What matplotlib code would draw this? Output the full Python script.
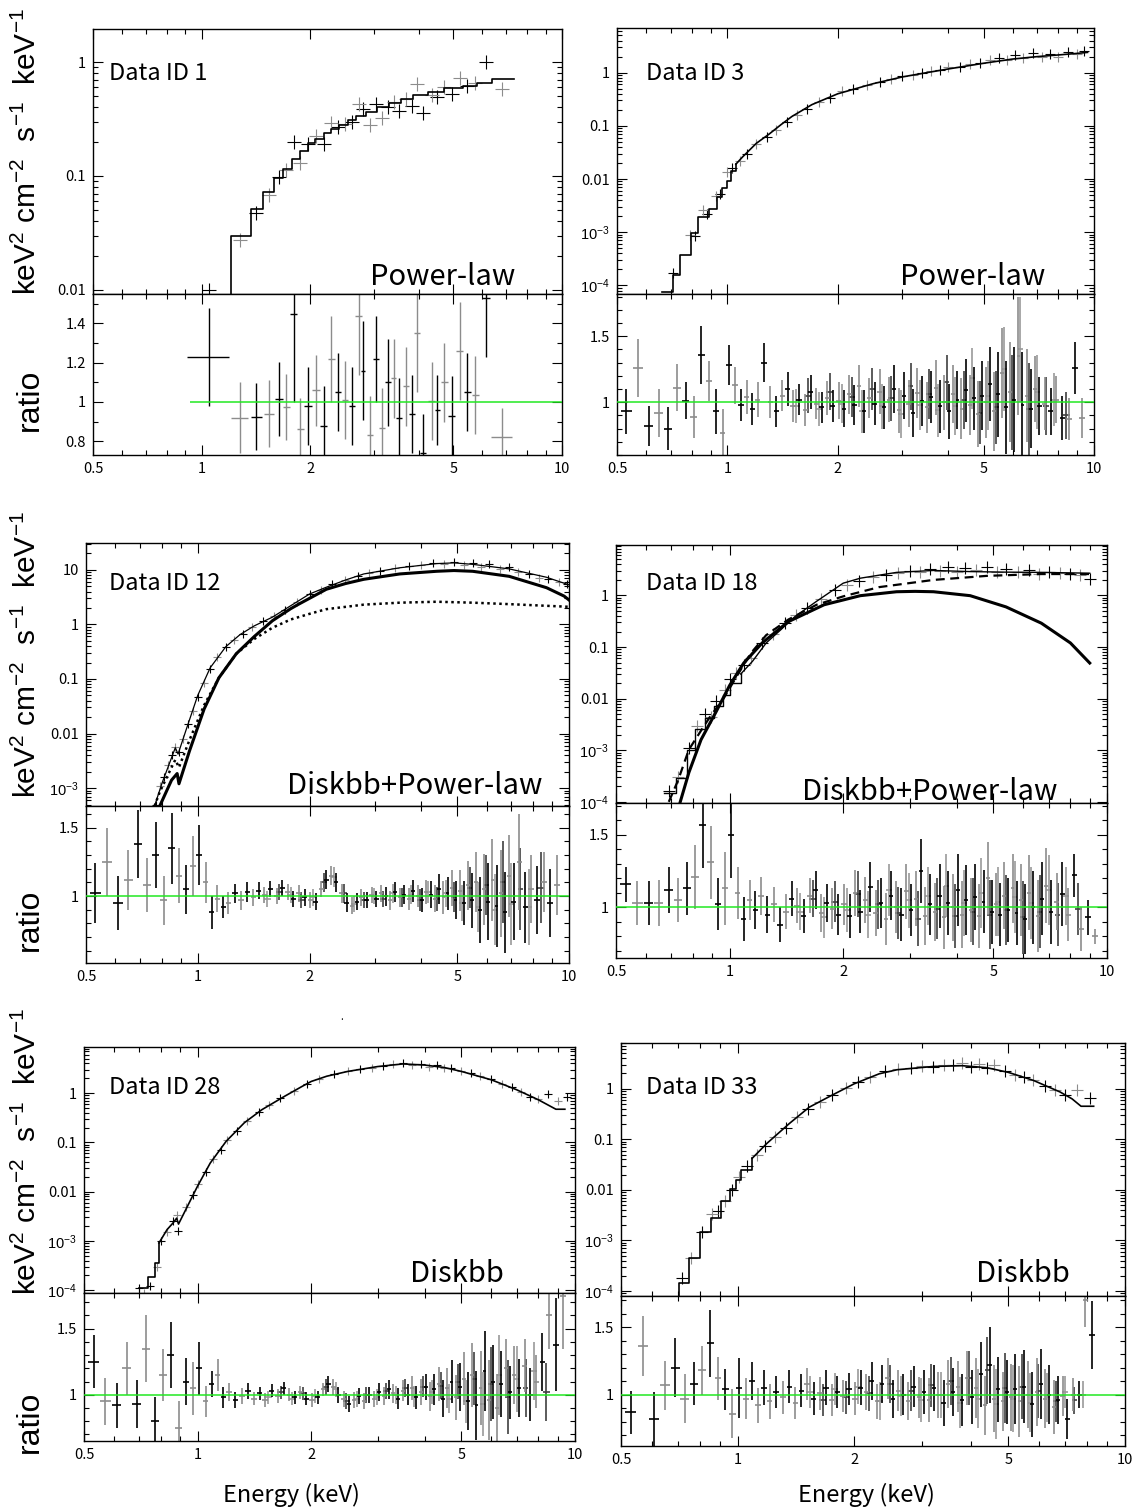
import matplotlib
matplotlib.use("Agg")
import matplotlib.pyplot as plt
import numpy as np
from matplotlib.ticker import FixedLocator, FuncFormatter, NullFormatter, LogLocator, MultipleLocator

# ---------------- data ----------------
# Data ID 1 (power-law)
p1_mod_e = [1.205, 1.205, 1.37, 1.48, 1.59, 1.68, 1.78, 1.87, 1.97, 2.07, 2.18, 2.29, 2.40,
            2.55, 2.69, 2.86, 3.07, 3.31, 3.57, 3.87, 4.25, 4.72, 5.30, 5.82, 6.38, 7.34]
p1_mod_f = [0.005, 0.030, 0.051, 0.072, 0.096, 0.115, 0.142, 0.166, 0.194, 0.213, 0.237, 0.258, 0.281,
            0.307, 0.335, 0.364, 0.403, 0.438, 0.478, 0.512, 0.548, 0.587, 0.62, 0.66, 0.71, 0.71]
p1_e = [1.05, 1.28, 1.42, 1.54, 1.64, 1.72, 1.80, 1.88, 1.98, 2.08, 2.18, 2.29, 2.39, 2.50, 2.61,
        2.73, 2.81, 2.93, 3.05, 3.16, 3.29, 3.41, 3.54, 3.70, 3.83, 3.96, 4.12, 4.35, 4.51, 4.72,
        4.94, 5.21, 5.46, 5.75, 6.16, 6.81]
p1_flux = [0.0100, 0.0276, 0.047, 0.068, 0.097, 0.112, 0.20, 0.13, 0.19, 0.226, 0.19, 0.29, 0.27,
           0.284, 0.30, 0.43, 0.39, 0.28, 0.43, 0.32, 0.40, 0.45, 0.37, 0.47, 0.41, 0.645, 0.36,
           0.51, 0.49, 0.60, 0.52, 0.72, 0.62, 0.65, 1.0, 0.58]
p1_ratio = [1.23, 0.92, 0.925, 0.94, 1.015, 0.975, 1.45, 0.86, 0.98, 1.06, 0.88, 1.22, 1.05, 1.01,
            0.98, 1.44, 1.16, 0.83, 1.22, 0.87, 1.10, 1.12, 0.92, 1.08, 0.94, 1.35, 0.74, 1.005,
            0.96, 1.10, 0.93, 1.26, 1.05, 1.035, 1.53, 0.82]
p1_rerr = [0.25, 0.18, 0.17, 0.17, 0.19, 0.17, 0.45, 0.16, 0.20, 0.18, 0.20, 0.22, 0.20, 0.20,
           0.20, 0.30, 0.25, 0.20, 0.22, 0.20, 0.22, 0.20, 0.20, 0.20, 0.20, 0.30, 0.20, 0.20,
           0.18, 0.20, 0.20, 0.25, 0.20, 0.20, 0.30, 0.15]
p1_xerr = [0.14, 0.07, 0.05, 0.05, 0.04, 0.04, 0.04, 0.04, 0.05, 0.05, 0.05, 0.05, 0.05, 0.05,
           0.05, 0.06, 0.04, 0.06, 0.06, 0.06, 0.06, 0.06, 0.07, 0.07, 0.07, 0.07, 0.08, 0.10,
           0.08, 0.10, 0.10, 0.12, 0.12, 0.13, 0.15, 0.45]

# energy grids used for the residual (ratio) points of the dense spectra
e_grid = [0.53, 0.57, 0.61, 0.65, 0.69, 0.73, 0.77, 0.81, 0.85, 0.89, 0.93, 0.97,
          1.01, 1.05, 1.09, 1.13, 1.17, 1.21, 1.26, 1.31, 1.36, 1.41, 1.46, 1.51, 1.57, 1.63,
          1.69, 1.75, 1.81, 1.87, 1.94,
          2.01, 2.08, 2.15, 2.22, 2.29, 2.36, 2.44, 2.52, 2.60, 2.68, 2.76, 2.85, 2.94, 3.03,
          3.12, 3.21, 3.30, 3.40, 3.50, 3.60, 3.70, 3.80, 3.91, 4.02, 4.13, 4.24, 4.35, 4.47,
          4.59, 4.71, 4.83, 4.95,
          5.08, 5.21, 5.34, 5.48, 5.62, 5.76, 5.91, 6.06, 6.22, 6.38, 6.55, 6.72, 6.90, 7.10,
          7.35, 7.62, 7.90, 8.20, 8.55, 8.90, 9.30]
e_grid2 = [1.54, 1.66, 1.78, 1.90, 2.05, 2.19, 2.33, 2.48, 2.64, 2.80, 2.98, 3.16, 3.35, 3.55,
           3.75, 3.96, 4.18, 4.41, 4.65, 4.89, 5.14, 5.41, 5.69, 5.98, 6.30, 6.63, 7.0, 7.4,
           7.8, 8.4]

# Data ID 3 (power-law)
p2_mod_e = [0.665, 0.711, 0.744, 0.794, 0.834, 0.893, 0.935, 0.967, 0.995, 1.02, 1.055, 1.1, 1.2,
            1.3, 1.4, 1.5, 1.7, 2.0, 2.5, 3.0, 3.5, 4.0, 5.0, 6.0, 7.0, 8.0, 9.0, 9.6]
p2_mod_f = [7.5e-5, 1.58e-4, 3.8e-4, 9.5e-4, 1.95e-3, 2.7e-3, 4.6e-3, 6.8e-3, 9.3e-3, 0.0143, 0.019,
            0.026, 0.047, 0.07, 0.105, 0.15, 0.25, 0.40, 0.62, 0.83, 1.0, 1.17, 1.50, 1.8, 2.0,
            2.15, 2.3, 2.4]
p2_de = [0.71, 0.79, 0.815, 0.86, 0.88, 0.93, 0.955, 1.0, 1.03, 1.08, 1.13, 1.2, 1.28, 1.36, 1.45,
         1.55, 1.65, 1.78, 1.9, 2.05, 2.2, 2.4, 2.6, 2.8, 3.0, 3.2, 3.4, 3.6, 3.8, 4.0, 4.3, 4.6,
         4.9, 5.2, 5.5, 5.8, 6.1, 6.4, 6.8, 7.2, 7.6, 8.0, 8.5, 9.0, 9.4]
p2_df = [1.7e-4, 9e-4, 8.5e-4, 2.6e-3, 2.2e-3, 4.8e-3, 5.2e-3, 0.0135, 0.016, 0.022, 0.030, 0.045,
         0.062, 0.085, 0.12, 0.16, 0.21, 0.28, 0.34, 0.45, 0.50, 0.58, 0.68, 0.75, 0.86, 0.90,
         0.98, 1.08, 1.1, 1.25, 1.3, 1.45, 1.5, 1.7, 1.85, 1.75, 2.1, 1.9, 2.3, 2.0, 2.2, 2.0,
         2.4, 2.2, 2.6]
p2_ratio = [0.93, 1.26, 0.82, 0.92, 0.80, 1.11, 1.01, 0.89, 1.36, 1.16, 0.93, 0.77,
            1.28, 1.13, 0.98, 1.04, 0.95, 1.02, 1.30, 1.00, 0.93, 1.05, 1.10, 0.97, 1.02, 0.94,
            1.08, 0.99, 0.96, 1.03, 0.97,
            1.01, 0.95, 1.06, 0.98, 1.12, 0.93, 1.03, 0.99, 1.08, 0.96, 1.02, 1.10, 0.94, 1.05,
            0.99, 0.92, 1.07, 1.01, 0.96, 1.04, 1.11, 0.97, 1.00, 0.93, 1.06, 1.02, 0.95, 1.09,
            0.98, 1.03, 0.91, 1.05,
            1.00, 1.14, 0.93, 1.06, 1.22, 0.96, 1.08, 1.02, 1.35, 0.98, 1.05, 0.95, 1.10, 0.97,
            0.99, 0.93, 1.02, 0.88, 0.87, 1.26, 0.88]
p2_err = [0.17, 0.22, 0.15, 0.18, 0.16, 0.18, 0.14, 0.16, 0.22, 0.15, 0.17, 0.18,
          0.15, 0.14, 0.12, 0.13, 0.12, 0.13, 0.15, 0.12, 0.12, 0.12, 0.13, 0.12, 0.12, 0.12,
          0.13, 0.12, 0.12, 0.13, 0.12,
          0.14, 0.14, 0.15, 0.15, 0.16, 0.16, 0.15, 0.16, 0.17, 0.16, 0.17, 0.18, 0.17, 0.18,
          0.18, 0.18, 0.19, 0.19, 0.19, 0.20, 0.21, 0.20, 0.21, 0.21, 0.22, 0.22, 0.23, 0.24,
          0.23, 0.24, 0.25, 0.26,
          0.27, 0.28, 0.30, 0.32, 0.34, 0.35, 0.38, 0.40, 0.45, 0.40, 0.35, 0.30, 0.25, 0.22,
          0.20, 0.18, 0.18, 0.17, 0.16, 0.20, 0.15]
p2_ratio2 = [0.97, 1.05, 0.95, 1.08, 0.99, 1.04, 0.93, 1.10, 0.97, 1.03, 0.91, 1.12, 0.98, 1.06,
             0.94, 1.15, 0.97, 1.02, 1.18, 0.92, 1.05, 0.96, 1.25, 1.00, 1.40, 0.95, 1.08, 0.97,
             1.02, 0.90]
p2_err2 = [0.13, 0.13, 0.13, 0.14, 0.15, 0.15, 0.16, 0.16, 0.17, 0.17, 0.18, 0.18, 0.19, 0.19,
           0.20, 0.21, 0.22, 0.22, 0.23, 0.24, 0.26, 0.28, 0.32, 0.36, 0.40, 0.35, 0.28, 0.22,
           0.20, 0.18]

# Data ID 12 (diskbb + power-law)
p3_tot_e = [0.765, 0.80, 0.85, 0.87, 0.885, 0.93, 1.0, 1.08, 1.19, 1.30, 1.42, 1.59, 1.78, 2.0,
            2.22, 2.5, 2.8, 3.5, 4.4, 4.9, 5.5, 6.9, 8.7, 10.0]
p3_tot_f = [4.7e-4, 1.2e-3, 3.6e-3, 5.5e-3, 4.2e-3, 0.0116, 0.05, 0.16, 0.39, 0.65, 0.94, 1.36, 2.2,
            3.6, 4.8, 6.5, 8.4, 10.9, 13.0, 13.4, 12.6, 10.4, 7.3, 5.3]
p3_disk_e = [0.79, 0.85, 0.88, 0.89, 0.95, 1.04, 1.14, 1.27, 1.42, 1.59, 1.78, 1.86, 2.0, 2.22,
             2.5, 2.8, 3.5, 4.4, 4.9, 5.5, 6.9, 8.7, 9.7, 10.0]
p3_disk_f = [4.7e-4, 1.4e-3, 1.85e-3, 1.2e-3, 4.8e-3, 0.028, 0.105, 0.29, 0.6, 1.17, 1.94, 2.3,
             3.0, 4.4, 5.6, 6.7, 8.4, 9.4, 9.7, 9.4, 7.6, 4.7, 3.3, 2.8]
p3_pl_e = [0.765, 0.79, 0.85, 0.87, 0.89, 0.95, 1.04, 1.14, 1.27, 1.42, 1.59, 1.78, 2.0, 2.22,
           2.8, 3.5, 4.4, 5.5, 6.9, 10.0]
p3_pl_f = [4.7e-4, 8.5e-4, 2.4e-3, 3.3e-3, 2.4e-3, 7.6e-3, 0.033, 0.105, 0.29, 0.54, 0.87, 1.23,
           1.56, 1.9, 2.3, 2.5, 2.6, 2.5, 2.35, 2.1]
p3_de = [0.77, 0.79, 0.81, 0.83, 0.85, 0.87, 0.89, 0.91, 0.94, 0.97, 1.0, 1.04, 1.08, 1.13, 1.19,
         1.25, 1.32, 1.40, 1.50, 1.60, 1.72, 1.85, 2.0, 2.15, 2.3, 2.5, 2.7, 2.9, 3.1, 3.4, 3.7,
         4.0, 4.3, 4.6, 4.9, 5.2, 5.5, 5.8, 6.1, 6.5, 6.9, 7.3, 7.8, 8.3, 8.8, 9.4, 9.9]
p3_df = [5e-4, 1.1e-3, 1.6e-3, 2.6e-3, 4e-3, 5.6e-3, 4.5e-3, 8e-3, 0.015, 0.026, 0.047, 0.085, 0.15,
         0.25, 0.38, 0.52, 0.68, 0.88, 1.15, 1.4, 1.8, 2.6, 3.6, 4.3, 5.4, 6.4, 7.8, 8.8, 9.6,
         10.6, 11.8, 12.2, 13.5, 12.8, 13.8, 12.5, 13.2, 11.5, 12.8, 10.5, 11.2, 9.0, 8.5, 7.2,
         6.8, 5.9, 5.5]
p3_ratio = [1.02, 1.25, 0.95, 1.12, 1.38, 1.08, 1.30, 0.97, 1.35, 1.15, 1.05, 1.22,
            1.30, 1.10, 0.88, 0.98, 0.92, 0.95, 1.02, 0.97, 1.03, 0.99, 1.04, 1.01, 1.05, 1.00,
            1.06, 1.03, 0.98, 1.02, 0.99,
            0.97, 0.96, 1.05, 1.12, 1.15, 1.10, 1.02, 0.95, 0.93, 0.96, 0.99, 0.97, 1.01, 0.98,
            1.02, 1.00, 0.97, 1.03, 0.99, 1.01, 0.98, 1.04, 1.00, 0.97, 1.03, 1.01, 0.98, 1.05,
            0.99, 1.02, 1.06, 0.97,
            1.04, 0.95, 1.08, 0.97, 1.10, 0.90, 1.05, 0.96, 1.12, 0.93, 1.02, 0.88, 1.15, 0.96,
            1.25, 0.92, 1.05, 0.97, 1.10, 0.95, 1.08]
p3_err = [0.22, 0.25, 0.20, 0.22, 0.25, 0.20, 0.24, 0.18, 0.26, 0.20, 0.18, 0.22,
          0.22, 0.15, 0.12, 0.10, 0.08, 0.08, 0.07, 0.07, 0.07, 0.06, 0.06, 0.06, 0.06, 0.06,
          0.06, 0.06, 0.06, 0.06, 0.06,
          0.06, 0.06, 0.06, 0.07, 0.07, 0.07, 0.07, 0.07, 0.06, 0.06, 0.06, 0.06, 0.06, 0.06,
          0.06, 0.07, 0.07, 0.07, 0.07, 0.07, 0.08, 0.08, 0.08, 0.09, 0.09, 0.10, 0.10, 0.11,
          0.12, 0.12, 0.13, 0.14,
          0.15, 0.16, 0.18, 0.20, 0.22, 0.24, 0.26, 0.28, 0.30, 0.30, 0.32, 0.30, 0.30, 0.28,
          0.35, 0.26, 0.25, 0.25, 0.22, 0.25, 0.22]
p3_ratio2 = [0.98, 1.03, 1.01, 0.97, 0.99, 1.10, 1.14, 1.02, 0.94, 0.97, 1.00, 0.98, 1.02, 0.99,
             1.01, 0.97, 1.03, 0.98, 1.02, 0.99, 0.95, 1.06, 0.92, 1.08, 0.90, 1.10, 0.94, 1.05,
             0.92, 1.06]
p3_err2 = [0.06, 0.06, 0.06, 0.06, 0.06, 0.07, 0.07, 0.07, 0.06, 0.06, 0.06, 0.06, 0.07, 0.07,
           0.07, 0.08, 0.08, 0.09, 0.10, 0.11, 0.13, 0.15, 0.18, 0.22, 0.26, 0.30, 0.30, 0.30,
           0.28, 0.26]

# Data ID 18 (diskbb + power-law)
p4_tot_e = [0.67, 0.72, 0.77, 0.81, 0.86, 0.91, 0.96, 1.0, 1.07, 1.15, 1.25, 1.37, 1.49, 1.70,
            2.0, 2.22, 2.77, 3.47, 4.34, 5.4, 6.7, 9.0]
p4_tot_f = [1.5e-4, 2.9e-4, 1.03e-3, 2.6e-3, 4.2e-3, 7.1e-3, 0.012, 0.020, 0.030, 0.053, 0.12,
            0.22, 0.39, 0.77, 1.73, 2.16, 2.8, 3.05, 2.9, 2.83, 2.8, 2.7]
p4_pl_e = [0.69, 0.73, 0.78, 0.84, 0.89, 0.96, 1.05, 1.14, 1.25, 1.43, 1.70, 2.0, 2.49, 3.47,
           4.82, 6.7, 9.0]
p4_pl_f = [1.0e-4, 2.6e-4, 1.03e-3, 2.4e-3, 4.6e-3, 9.6e-3, 0.029, 0.077, 0.17, 0.34, 0.66, 0.96,
           1.45, 2.0, 2.4, 2.6, 2.6]
p4_disk_e = [0.74, 0.78, 0.84, 0.92, 1.0, 1.09, 1.22, 1.43, 1.78, 2.22, 2.77, 3.1, 3.47, 4.34,
             5.4, 6.7, 8.0, 9.0]
p4_disk_f = [1.0e-4, 3.7e-4, 1.6e-3, 5.5e-3, 0.018, 0.049, 0.12, 0.31, 0.66, 0.99, 1.18, 1.2,
             1.18, 0.99, 0.60, 0.29, 0.12, 0.049]
p4_de = [0.69, 0.73, 0.78, 0.82, 0.86, 0.89, 0.92, 0.97, 1.0, 1.04, 1.09, 1.14, 1.22, 1.3, 1.4,
         1.5, 1.6, 1.75, 1.9, 2.05, 2.2, 2.4, 2.6, 2.8, 3.0, 3.2, 3.4, 3.6, 3.8, 4.0, 4.2, 4.5,
         4.8, 5.1, 5.4, 5.8, 6.2, 6.6, 7.0, 7.5, 8.0, 8.5, 9.0]
p4_df = [1.6e-4, 3e-4, 1.1e-3, 3.0e-3, 5e-3, 4.5e-3, 9e-3, 0.015, 0.024, 0.032, 0.045, 0.062,
         0.12, 0.18, 0.29, 0.42, 0.56, 0.85, 1.25, 1.6, 1.9, 2.3, 2.5, 2.7, 3.0, 2.8, 3.3, 3.0,
         3.5, 2.9, 3.4, 3.1, 3.6, 2.9, 3.2, 2.8, 3.1, 2.6, 2.9, 2.7, 2.6, 2.5, 2.1]
p4_ratio = [1.16, 1.03, 1.03, 1.03, 1.12, 1.05, 1.13, 1.21, 1.57, 1.31, 1.02, 1.13,
            1.50, 1.10, 0.92, 1.05, 0.98, 1.08, 0.95, 1.02, 0.88, 0.97, 1.06, 1.01, 0.94, 1.08,
            1.12, 0.96, 1.03, 0.99, 0.95,
            1.02, 0.94, 1.10, 0.97, 1.05, 1.14, 0.96, 1.03, 0.92, 1.08, 1.00, 0.95, 1.11, 0.98,
            1.06, 1.25, 0.94, 1.02, 0.97, 1.08, 0.93, 1.03, 1.00, 1.12, 0.95, 1.05, 0.98, 1.07,
            0.94, 1.04, 1.20, 0.97,
            1.02, 0.95, 1.08, 0.98, 1.13, 0.96, 1.05, 0.92, 1.10, 1.00, 0.94, 1.06, 1.15, 0.97,
            1.04, 1.09, 0.95, 1.22, 0.85, 0.93, 0.80]
p4_err = [0.12, 0.15, 0.15, 0.16, 0.16, 0.15, 0.18, 0.22, 0.30, 0.25, 0.18, 0.25,
          0.30, 0.18, 0.15, 0.14, 0.13, 0.13, 0.13, 0.12, 0.12, 0.12, 0.12, 0.12, 0.12, 0.12,
          0.13, 0.13, 0.13, 0.14, 0.14,
          0.14, 0.15, 0.16, 0.15, 0.16, 0.17, 0.16, 0.17, 0.18, 0.17, 0.18, 0.18, 0.19, 0.18,
          0.19, 0.22, 0.20, 0.21, 0.20, 0.22, 0.22, 0.22, 0.23, 0.25, 0.23, 0.24, 0.22, 0.23,
          0.22, 0.22, 0.25, 0.22,
          0.22, 0.22, 0.23, 0.22, 0.24, 0.22, 0.25, 0.24, 0.26, 0.25, 0.25, 0.25, 0.26, 0.22,
          0.20, 0.22, 0.18, 0.15, 0.15, 0.12, 0.05]
p4_ratio2 = [0.97, 1.06, 0.93, 1.04, 0.98, 1.09, 0.95, 1.02, 1.12, 0.96, 1.05, 0.92, 1.08, 0.99,
             1.15, 0.94, 1.03, 0.97, 1.10, 0.95, 1.04, 0.98, 1.07, 0.93, 1.03, 0.97, 1.12, 0.95,
             1.08, 0.99]
p4_err2 = [0.13, 0.13, 0.14, 0.14, 0.15, 0.16, 0.16, 0.17, 0.18, 0.18, 0.19, 0.19, 0.20, 0.21,
           0.22, 0.22, 0.23, 0.23, 0.24, 0.24, 0.24, 0.24, 0.25, 0.25, 0.25, 0.25, 0.24, 0.22,
           0.20, 0.18]

# Data ID 28 (diskbb)
p5_mod_e = [0.70, 0.74, 0.77, 0.79, 0.83, 0.86, 0.88, 0.89, 0.93, 1.0, 1.08, 1.19, 1.33, 1.48,
            1.7, 1.89, 2.0, 2.2, 2.5, 3.0, 3.5, 4.0, 4.5, 5.0, 6.0, 7.0, 8.0, 8.9, 9.4]
p5_mod_f = [1.1e-4, 1.9e-4, 3.6e-4, 9.1e-4, 1.7e-3, 2.3e-3, 2.9e-3, 2.2e-3, 4.3e-3, 0.013, 0.038,
            0.105, 0.25, 0.46, 0.86, 1.36, 1.72, 2.2, 2.75, 3.45, 3.9, 3.7, 3.3, 2.75, 1.86, 1.17,
            0.73, 0.47, 0.47]
p5_de = [0.70, 0.72, 0.75, 0.78, 0.80, 0.83, 0.86, 0.88, 0.885, 0.93, 0.97, 1.0, 1.05, 1.1, 1.15,
         1.2, 1.27, 1.35, 1.45, 1.55, 1.65, 1.8, 1.95, 2.1, 2.3, 2.5, 2.7, 2.9, 3.1, 3.3, 3.5,
         3.7, 3.9, 4.1, 4.3, 4.5, 4.7, 5.0, 5.3, 5.6, 6.0, 6.4, 6.8, 7.2, 7.6, 8.0, 8.5, 9.0, 9.5]
p5_df = [1.1e-4, 9e-5, 1.2e-4, 3e-4, 1e-3, 1.5e-3, 2.5e-3, 3.3e-3, 1.6e-3, 5e-3, 8.5e-3, 0.014,
         0.025, 0.045, 0.07, 0.11, 0.17, 0.27, 0.42, 0.58, 0.78, 1.1, 1.5, 1.9, 2.4, 2.8, 3.1,
         3.3, 3.6, 3.8, 4.0, 3.7, 3.9, 3.4, 3.7, 3.2, 3.3, 2.8, 2.5, 2.2, 1.9, 1.5, 1.3, 1.05,
         0.85, 0.75, 0.95, 0.70, 0.82]
p5_ratio = [1.25, 0.95, 0.92, 1.20, 0.93, 1.35, 0.80, 1.15, 1.30, 0.75, 1.10, 1.05,
            1.20, 0.95, 1.08, 1.15, 0.98, 1.02, 0.96, 0.99, 1.03, 0.97, 1.01, 0.96, 1.03, 0.99,
            1.05, 1.00, 0.98, 1.02, 0.97,
            0.96, 0.98, 1.04, 1.08, 1.06, 1.00, 0.97, 0.93, 0.96, 0.99, 0.95, 1.00, 0.97, 1.02,
            0.99, 1.04, 1.01, 0.97, 1.03, 1.00, 1.05, 0.98, 1.02, 1.06, 0.99, 1.04, 1.08, 0.97,
            1.05, 1.10, 0.98, 1.06,
            1.12, 0.95, 1.15, 0.92, 1.05, 1.18, 0.96, 1.10, 0.90, 1.08, 1.20, 1.02, 1.15, 1.05,
            1.22, 1.00, 1.10, 1.25, 1.60, 1.38, 1.75]
p5_err = [0.20, 0.18, 0.17, 0.20, 0.18, 0.25, 0.18, 0.20, 0.25, 0.20, 0.18, 0.20,
          0.20, 0.12, 0.10, 0.12, 0.08, 0.07, 0.06, 0.06, 0.06, 0.05, 0.05, 0.05, 0.05, 0.05,
          0.05, 0.05, 0.05, 0.05, 0.05,
          0.05, 0.05, 0.05, 0.06, 0.06, 0.06, 0.06, 0.06, 0.06, 0.06, 0.06, 0.06, 0.06, 0.07,
          0.07, 0.07, 0.07, 0.08, 0.08, 0.08, 0.09, 0.09, 0.10, 0.10, 0.11, 0.12, 0.13, 0.14,
          0.15, 0.16, 0.17, 0.18,
          0.20, 0.22, 0.24, 0.26, 0.28, 0.30, 0.30, 0.28, 0.26, 0.25, 0.22, 0.20, 0.22, 0.22,
          0.20, 0.20, 0.20, 0.22, 0.25, 0.35, 0.40]
p5_ratio2 = [0.98, 1.02, 0.97, 1.01, 0.99, 1.06, 1.04, 0.95, 0.97, 1.00, 0.98, 1.03, 1.00, 1.05,
             0.99, 1.06, 1.02, 1.07, 0.97, 1.10, 0.95, 1.12, 0.93, 1.08, 1.15, 0.98, 1.12, 1.05,
             1.18, 1.02]
p5_err2 = [0.05, 0.05, 0.05, 0.05, 0.05, 0.06, 0.06, 0.06, 0.06, 0.06, 0.06, 0.06, 0.07, 0.07,
           0.08, 0.08, 0.09, 0.10, 0.11, 0.13, 0.16, 0.20, 0.24, 0.28, 0.30, 0.28, 0.25, 0.22,
           0.22, 0.22]

# Data ID 33 (diskbb)
p6_mod_e = [0.705, 0.705, 0.75, 0.80, 0.855, 0.905, 0.953, 0.99, 1.02, 1.09, 1.19, 1.36, 1.53,
            1.75, 2.0, 2.32, 2.58, 3.2, 3.8, 4.4, 5.0, 5.8, 6.8, 7.3, 7.7, 8.3]
p6_mod_f = [5e-5, 1.46e-4, 4.5e-4, 1.5e-3, 2.8e-3, 5.9e-3, 0.0103, 0.0157, 0.025, 0.042, 0.083,
            0.205, 0.43, 0.74, 1.25, 1.97, 2.37, 2.75, 2.85, 2.6, 2.1, 1.46, 0.86, 0.63, 0.45, 0.45]
p6_de = [0.72, 0.76, 0.81, 0.86, 0.89, 0.93, 0.97, 1.01, 1.06, 1.12, 1.18, 1.25, 1.33, 1.42,
         1.52, 1.63, 1.75, 1.9, 2.05, 2.2, 2.4, 2.6, 2.8, 3.0, 3.2, 3.4, 3.6, 3.8, 4.0, 4.2, 4.4,
         4.6, 4.9, 5.2, 5.5, 5.8, 6.2, 6.6, 7.0, 7.5, 8.1]
p6_df = [1.8e-4, 4.5e-4, 1.5e-3, 3.3e-3, 3.8e-3, 6e-3, 0.01, 0.018, 0.03, 0.05, 0.075, 0.11, 0.17,
         0.27, 0.40, 0.55, 0.75, 1.05, 1.35, 1.7, 2.2, 2.4, 2.6, 2.8, 2.7, 3.0, 2.9, 3.2, 2.7,
         3.1, 2.6, 2.9, 2.2, 1.9, 1.7, 1.5, 1.15, 0.95, 0.75, 0.95, 0.65]
p6_ratio = [0.87, 1.36, 0.82, 1.07, 1.20, 0.97, 1.08, 1.18, 1.38, 1.12, 1.04, 0.86,
            1.05, 0.97, 1.10, 0.92, 1.05, 0.95, 1.02, 0.98, 1.06, 0.94, 1.03, 1.08, 0.97, 1.01,
            1.05, 0.96, 1.02, 0.99, 1.04,
            0.97, 1.05, 1.02, 1.10, 0.95, 1.08, 1.12, 0.97, 1.03, 1.00, 0.95, 1.06, 0.98, 1.02,
            0.96, 1.05, 1.00, 0.94, 1.08, 1.02, 1.06, 0.96, 1.12, 0.98, 1.05, 1.15, 0.92, 1.22,
            0.97, 1.04, 0.95, 1.02,
            0.98, 1.04, 0.95, 1.06, 1.00, 0.93, 1.02, 1.08, 0.97, 1.00, 0.91, 0.96, 0.99, 0.82,
            1.00, 1.00, 1.70, 1.44, np.nan, np.nan, np.nan]
p6_err = [0.16, 0.22, 0.20, 0.18, 0.22, 0.18, 0.16, 0.18, 0.25, 0.16, 0.15, 0.18,
          0.22, 0.15, 0.14, 0.13, 0.13, 0.13, 0.12, 0.12, 0.12, 0.12, 0.12, 0.12, 0.12, 0.12,
          0.13, 0.12, 0.12, 0.12, 0.12,
          0.12, 0.13, 0.13, 0.14, 0.13, 0.14, 0.15, 0.14, 0.15, 0.15, 0.14, 0.15, 0.15, 0.16,
          0.16, 0.17, 0.17, 0.17, 0.18, 0.18, 0.19, 0.19, 0.20, 0.20, 0.22, 0.24, 0.22, 0.28,
          0.25, 0.24, 0.22, 0.24,
          0.25, 0.26, 0.26, 0.27, 0.25, 0.24, 0.25, 0.26, 0.22, 0.22, 0.20, 0.18, 0.15, 0.15,
          0.12, 0.10, 0.20, 0.25, np.nan, np.nan, np.nan]
p6_ratio2 = [1.02, 0.96, 1.04, 0.98, 1.06, 1.01, 0.95, 1.08, 0.99, 1.03, 0.96, 1.07, 1.00, 1.10,
             0.94, 1.12, 0.97, 1.18, 0.93, 1.05, 0.97, 1.06, 0.94, 1.03, 0.98, 0.95, 1.02, 0.96,
             1.00, np.nan]
p6_err2 = [0.12, 0.12, 0.12, 0.12, 0.13, 0.13, 0.14, 0.14, 0.15, 0.15, 0.16, 0.16, 0.17, 0.18,
           0.19, 0.20, 0.22, 0.25, 0.26, 0.26, 0.25, 0.24, 0.22, 0.20, 0.18, 0.15, 0.12, 0.10,
           0.10, np.nan]

x_major = [0.5, 1, 2, 5, 10]
x_minor = [0.6, 0.7, 0.8, 0.9, 3, 4, 6, 7, 8, 9]

# ---------------- figure ----------------
plt.rcParams['font.family'] = ['Noto Sans CJK JP', 'DejaVu Sans']
plt.rcParams['mathtext.fontset'] = 'custom'
plt.rcParams['mathtext.rm'] = 'Liberation Sans'
plt.rcParams['mathtext.it'] = 'Liberation Sans:italic'
plt.rcParams['axes.linewidth'] = 1.0

W, H = 1137, 1512
fig = plt.figure(figsize=(W / 100, H / 100), dpi=100)


def px_axes(l, r, t, b):
    return fig.add_axes([l / W, 1 - b / H, (r - l) / W, (b - t) / H])


def px_text(x, y, s, **kw):
    fig.text(x / W, 1 - y / H, s, **kw)


def spec_fmt(v, pos):
    if v >= 0.01:
        return '%g' % v
    return r'$10^{%d}$' % round(np.log10(v))


def common(ax):
    ax.set_xscale('log')
    ax.set_xlim(0.5, 10)
    ax.xaxis.set_major_locator(FixedLocator(x_major))
    ax.xaxis.set_minor_locator(FixedLocator(x_minor))
    ax.xaxis.set_major_formatter(FuncFormatter(lambda v, p: '%g' % v))
    ax.xaxis.set_minor_formatter(NullFormatter())
    ax.tick_params(which='both', direction='in', top=True, right=True, width=0.8,
                   labelsize=10.5, pad=5)
    ax.tick_params(which='major', length=7)
    ax.tick_params(which='minor', length=3.5)


def spec_axes(box, ylim):
    ax = px_axes(*box)
    common(ax)
    ax.set_yscale('log')
    ax.set_ylim(*ylim)
    ax.yaxis.set_major_locator(LogLocator(base=10))
    ax.yaxis.set_minor_locator(LogLocator(base=10, subs=range(2, 10)))
    ax.yaxis.set_major_formatter(FuncFormatter(spec_fmt))
    ax.yaxis.set_minor_formatter(NullFormatter())
    ax.tick_params(labelbottom=False)
    return ax


def ratio_axes(box, ylim, major, green_from=0.5):
    ax = px_axes(*box)
    common(ax)
    ax.set_ylim(*ylim)
    ax.yaxis.set_major_locator(MultipleLocator(major))
    ax.yaxis.set_minor_locator(MultipleLocator(0.1))
    ax.yaxis.set_major_formatter(FuncFormatter(lambda v, p: '%g' % round(v, 2)))
    ax.hlines(1.0, green_from, 10, color='#22e822', lw=1.1, zorder=5)
    return ax


def draw_model(ax, e, f, nstep, **kw):
    e = np.asarray(e)
    f = np.asarray(f)
    ax.plot(e[:nstep + 1], f[:nstep + 1], drawstyle='steps-post', **kw)
    ax.plot(e[nstep:], f[nstep:], **kw)


def draw_points(ax, e, f, ms):
    e = np.asarray(e)
    f = np.asarray(f)
    ax.plot(e[0::2], f[0::2], '+', color='black', ms=ms, mew=0.8)
    ax.plot(e[1::2], f[1::2], '+', color='0.55', ms=ms, mew=0.8)


def draw_resid(ax, e, r, err, xerr, colors=('black', '0.55'), lw=1.0):
    e, r, err, xerr = (np.asarray(a, float) for a in (e, r, err, xerr))
    ok = ~np.isnan(r)
    e, r, err, xerr = e[ok], r[ok], err[ok], xerr[ok]
    for k, c in enumerate(colors):
        ax.errorbar(e[k::2], r[k::2], yerr=err[k::2], xerr=xerr[k::2], fmt='none',
                    ecolor=c, elinewidth=lw, capsize=0)


grid_xerr = 0.45 * np.gradient(np.asarray(e_grid))
grid2_xerr = 0.3 * np.gradient(np.asarray(e_grid2))

# ---- Data ID 1 ----
ax = spec_axes((93, 562, 29, 294), (0.0092, 1.95))
draw_points(ax, p1_e, p1_flux, 10)
draw_model(ax, p1_mod_e, p1_mod_f, len(p1_mod_e) - 1, color='black', lw=1.2)
ax = ratio_axes((93, 562, 294, 455), (0.73, 1.55), 0.2, green_from=0.93)
draw_resid(ax, p1_e, p1_ratio, p1_rerr, p1_xerr)

# ---- Data ID 3 ----
ax = spec_axes((617, 1094, 28, 294), (6.9e-5, 6.9))
draw_points(ax, p2_de, p2_df, 7)
draw_model(ax, p2_mod_e, p2_mod_f, 10, color='black', lw=1.2)
ax = ratio_axes((617, 1094, 294, 455), (0.6, 1.82), 0.5)
draw_resid(ax, e_grid2, p2_ratio2, p2_err2, grid2_xerr, colors=('0.6', '0.25'), lw=1.2)
draw_resid(ax, e_grid, p2_ratio, p2_err, grid_xerr, lw=1.2)

# ---- Data ID 12 ----
ax = spec_axes((86, 569, 543, 806), (4.7e-4, 31))
draw_points(ax, p3_de, p3_df, 6)
draw_model(ax, p3_tot_e, p3_tot_f, 0, color='black', lw=0.9)
draw_model(ax, p3_disk_e, p3_disk_f, 0, color='black', lw=2.2)
draw_model(ax, p3_pl_e, p3_pl_f, 0, color='black', lw=1.8, linestyle=(0, (1, 1.4)))
ax = ratio_axes((86, 569, 806, 963), (0.51, 1.66), 0.5)
draw_resid(ax, e_grid2, p3_ratio2, p3_err2, grid2_xerr, colors=('0.6', '0.25'), lw=1.2)
draw_resid(ax, e_grid, p3_ratio, p3_err, grid_xerr, lw=1.2)

# ---- Data ID 18 ----
ax = spec_axes((616, 1107, 545, 803), (9.5e-5, 9.5))
draw_points(ax, p4_de, p4_df, 8)
draw_model(ax, p4_tot_e, p4_tot_f, 8, color='black', lw=1.0)
draw_model(ax, p4_pl_e, p4_pl_f, 0, color='black', lw=1.6, linestyle=(0, (4, 2.5)))
draw_model(ax, p4_disk_e, p4_disk_f, 0, color='black', lw=2.2)
ax = ratio_axes((616, 1107, 803, 958), (0.65, 1.72), 0.5)
draw_resid(ax, e_grid2, p4_ratio2, p4_err2, grid2_xerr, colors=('0.6', '0.25'), lw=1.2)
draw_resid(ax, e_grid, p4_ratio, p4_err, grid_xerr, lw=1.2)

# ---- Data ID 28 ----
ax = spec_axes((84, 575, 1047, 1293), (8.8e-5, 8.6))
draw_points(ax, p5_de, p5_df, 6)
draw_model(ax, p5_mod_e, p5_mod_f, 3, color='black', lw=1.2)
ax = ratio_axes((84, 575, 1293, 1441), (0.65, 1.77), 0.5)
draw_resid(ax, e_grid2, p5_ratio2, p5_err2, grid2_xerr, colors=('0.6', '0.25'), lw=1.2)
draw_resid(ax, e_grid, p5_ratio, p5_err, grid_xerr, lw=1.2)

# ---- Data ID 33 ----
ax = spec_axes((621, 1125, 1043, 1296), (8.0e-5, 8.0))
draw_points(ax, p6_de, p6_df, 8)
draw_model(ax, p6_mod_e, p6_mod_f, 9, color='black', lw=1.2)
ax = ratio_axes((621, 1125, 1296, 1446), (0.62, 1.73), 0.5)
draw_resid(ax, e_grid2, p6_ratio2, p6_err2, grid2_xerr, colors=('0.6', '0.25'), lw=1.2)
draw_resid(ax, e_grid, p6_ratio, p6_err, grid_xerr, lw=1.2)

# ---------------- labels ----------------
ylab = r'keV$^2$ cm$^{-2}$  s$^{-1}$  keV$^{-1}$'
for yc in (152, 655, 1152):
    px_text(27, yc, ylab, rotation=90, fontsize=21.5, family='Liberation Sans',
            ha='center', va='center')
for yc in (400, 920, 1422):
    px_text(30, yc, 'ratio', rotation=90, fontsize=23, family='Liberation Sans',
            ha='center', va='center')

for x, y, s in ((109, 73, 'Data ID 1'), (646, 73, 'Data ID 3'), (109, 583, 'Data ID 12'),
                (646, 583, 'Data ID 18'), (109, 1087, 'Data ID 28'), (646, 1087, 'Data ID 33')):
    px_text(x, y, s, fontsize=17, ha='left', va='center')

for x, y, s in ((443, 277, 'Power-law'), (973, 277, 'Power-law'),
                (415, 786, 'Diskbb+Power-law'), (930, 792, 'Diskbb+Power-law'),
                (457, 1274, 'Diskbb'), (1023, 1274, 'Diskbb')):
    px_text(x, y, s, fontsize=21, ha='center', va='center')

px_text(291, 1495, 'Energy (keV)', fontsize=17, ha='center', va='center')
px_text(866, 1495, 'Energy (keV)', fontsize=17, ha='center', va='center')
px_text(342, 1022, '.', fontsize=7, ha='center', va='bottom')

fig.savefig('out.png', dpi=100)
